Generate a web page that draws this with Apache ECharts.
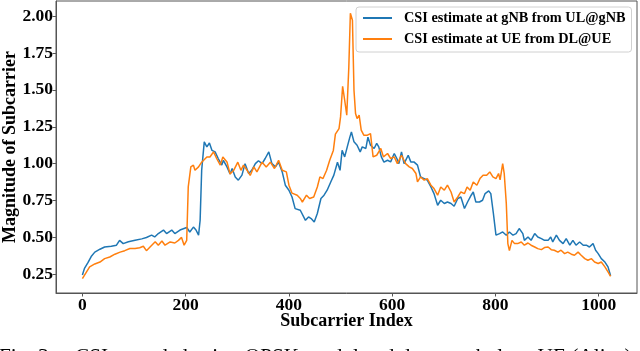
<!DOCTYPE html>
<html>
<head>
<meta charset="utf-8">
<script src="https://cdn.jsdelivr.net/npm/echarts@6/dist/echarts.min.js"></script>
<style>
html,body{margin:0;padding:0;background:#fff;}
#chart{width:640px;height:351px;}
</style>
</head>
<body>
<div id="chart"></div>
<script>
// ---- data ----
const blueName = 'CSI estimate at gNB from UL@gNB';
const orangeName = 'CSI estimate at UE from DL@UE';
const xTicks = [0, 200, 400, 600, 800, 1000];
const yTicks = [0.25, 0.5, 0.75, 1.0, 1.25, 1.5, 1.75, 2.0];

const blueX = [0,4,11,17,24,34,43,56,66,72,79,89,102,115,124,134,140,147,157,163,173,179,189,202,208,215,220,225,228,231,236,241,246,251,257,263,270,273,280,286,290,296,302,309,315,322,328,335,341,348,354,361,367,374,380,387,393,400,406,412,422,432,438,443,449,455,462,468,474,481,487,494,499,503,508,513,518,521,526,532,538,542,549,553,558,565,570,574,579,584,591,597,604,609,613,618,623,631,636,642,649,655,662,668,675,681,688,694,701,707,714,720,727,733,740,746,753,757,762,769,775,780,787,791,796,801,808,814,821,827,834,840,846,853,856,863,869,876,882,889,895,902,907,911,918,924,931,937,944,950,956,963,970,976,982,989,994,999,1005,1012,1018,1023];
const blueY = [0.245,0.29,0.33,0.37,0.40,0.42,0.435,0.44,0.447,0.48,0.458,0.47,0.48,0.49,0.499,0.515,0.503,0.526,0.55,0.526,0.55,0.526,0.55,0.567,0.537,0.57,0.55,0.515,0.616,0.955,1.148,1.114,1.14,1.09,1.08,1.035,0.99,1.023,0.978,0.93,0.967,0.91,0.888,0.922,1.0,0.933,0.955,1.0,1.02,1.0,1.035,1.08,1.0,0.978,1.01,0.944,0.854,0.82,0.774,0.695,0.684,0.616,0.639,0.628,0.605,0.662,0.764,0.786,0.82,0.876,0.922,1.01,0.955,1.09,1.046,1.114,1.18,1.215,1.148,1.125,1.08,1.114,1.103,1.18,1.125,1.103,1.137,1.114,1.046,1.01,1.023,1.012,1.069,1.035,1.0,1.08,1.0,1.057,1.012,1.012,0.99,0.91,0.899,0.888,0.842,0.797,0.718,0.752,0.73,0.74,0.73,0.711,0.764,0.774,0.696,0.74,0.786,0.808,0.74,0.74,0.752,0.797,0.815,0.797,0.662,0.515,0.526,0.537,0.515,0.537,0.515,0.526,0.56,0.526,0.48,0.503,0.48,0.526,0.503,0.492,0.48,0.48,0.503,0.469,0.515,0.48,0.458,0.492,0.447,0.48,0.447,0.469,0.447,0.447,0.435,0.458,0.413,0.39,0.356,0.333,0.30,0.24];

const orangeX = [0,8,14,24,34,43,53,63,73,82,92,102,111,118,124,131,141,147,154,160,170,179,186,192,197,202,205,210,215,218,225,231,241,247,254,260,267,272,280,286,293,301,307,312,319,325,332,338,348,356,364,372,380,387,395,400,406,409,416,422,426,434,440,448,455,460,466,473,479,486,490,497,500,504,508,512,516,519,523,526,529,532,536,540,545,552,558,563,570,578,583,591,597,604,610,618,626,633,639,646,649,655,662,668,675,681,688,694,701,707,714,720,727,733,740,745,751,757,764,770,776,783,789,795,801,806,809,814,817,821,824,827,832,837,843,850,856,863,869,876,882,889,895,902,908,914,921,927,934,940,947,953,960,966,973,979,986,992,999,1005,1012,1018,1023];
const orangeY = [0.22,0.266,0.30,0.32,0.333,0.356,0.367,0.386,0.40,0.41,0.425,0.425,0.43,0.44,0.41,0.435,0.47,0.447,0.476,0.447,0.469,0.462,0.48,0.50,0.447,0.48,0.842,0.978,0.99,0.955,0.978,1.01,1.045,1.045,1.08,1.035,0.99,1.045,1.012,0.93,0.955,1.01,0.955,0.99,0.955,0.92,0.978,0.944,1.01,0.978,1.01,0.967,1.023,0.955,0.944,0.854,0.80,0.797,0.786,0.764,0.74,0.786,0.764,0.774,0.842,0.91,0.899,0.955,1.023,1.09,1.20,1.238,1.317,1.525,1.43,1.329,1.656,2.02,1.973,1.498,1.34,1.306,1.329,1.227,1.193,1.193,1.204,1.046,1.057,1.103,1.046,1.069,1.035,1.046,1.0,1.057,1.0,0.978,0.967,0.933,0.876,0.91,0.888,0.899,0.854,0.831,0.786,0.842,0.82,0.854,0.808,0.74,0.774,0.808,0.797,0.842,0.82,0.876,0.854,0.899,0.922,0.922,0.944,0.91,0.899,0.933,0.89,1.0,0.933,0.73,0.458,0.41,0.48,0.458,0.458,0.469,0.447,0.462,0.447,0.435,0.424,0.417,0.431,0.435,0.417,0.413,0.40,0.413,0.39,0.40,0.386,0.379,0.40,0.379,0.356,0.345,0.356,0.333,0.323,0.333,0.30,0.266,0.236];

const captionLead = 'Fig. 3.';
const captionText = 'CSI recorded using QPSK modulated data symbols at UE (Alice)';

// ---- chart ----
const zip = (xs, ys) => xs.map((x, i) => [x, ys[i]]);
const serif = "'Liberation Serif', 'Times New Roman', serif";
const chart = echarts.init(document.getElementById('chart'), null, {renderer: 'canvas'});

chart.setOption({
  animation: false,
  backgroundColor: '#fff',
  grid: {left: 56, right: 3, top: 1, bottom: 58, containLabel: false, outerBoundsMode: 'none',
    show: true, borderColor: '#555', borderWidth: 1, backgroundColor: 'transparent'},
  xAxis: {
    type: 'value', min: -51.15, max: 1074.15,
    name: 'Subcarrier Index', nameLocation: 'middle', nameGap: 19, nameMoveOverlap: false,
    nameTextStyle: {fontFamily: serif, fontWeight: 'bold', fontSize: 18, color: '#000'},
    axisLine: {show: true, onZero: false, lineStyle: {color: '#555', width: 1}},
    axisTick: {show: true, length: 3.5, lineStyle: {color: '#555'}, customValues: xTicks},
    axisLabel: {customValues: xTicks, margin: 3, fontFamily: serif, fontWeight: 'bold', fontSize: 17.5, color: '#000',
      formatter: v => String(v)},
    splitLine: {show: false}
  },
  yAxis: {
    type: 'value', min: 0.123, max: 2.103,
    name: 'Magnitude of Subcarrier', nameLocation: 'middle', nameGap: 37, nameRotate: 90, nameMoveOverlap: false,
    nameTextStyle: {fontFamily: serif, fontWeight: 'bold', fontSize: 18, color: '#000'},
    axisLine: {show: true, onZero: false, lineStyle: {color: '#555', width: 1}},
    axisTick: {show: true, length: 3.5, lineStyle: {color: '#555'}, customValues: yTicks},
    axisLabel: {customValues: yTicks, margin: 3, fontFamily: serif, fontWeight: 'bold', fontSize: 17.5, color: '#000',
      formatter: v => v.toFixed(2)},
    splitLine: {show: false}
  },
  legend: {
    orient: 'vertical', left: 356, top: 7,
    padding: [4, 6, 6, 6],
    itemWidth: 29, itemHeight: 14, itemGap: 7,
    itemStyle: {opacity: 0},
    backgroundColor: 'rgba(255,255,255,0.8)', borderColor: '#d0d0d0', borderWidth: 1, borderRadius: 3,
    textStyle: {fontFamily: serif, fontWeight: 'bold', fontSize: 14.3, color: '#000', padding: [0, 0, 0, 7]},
    data: [blueName, orangeName]
  },
  series: [
    {name: blueName, type: 'line', data: zip(blueX, blueY), symbol: 'none', smooth: false,
      lineStyle: {color: '#1f77b4', width: 1.5}, itemStyle: {color: '#1f77b4'}},
    {name: orangeName, type: 'line', data: zip(orangeX, orangeY), symbol: 'none', smooth: false,
      lineStyle: {color: '#ff7f0e', width: 1.5}, itemStyle: {color: '#ff7f0e'}}
  ],
  graphic: [
    {type: 'text', x: -1, y: 357, style: {text: captionLead, fontFamily: serif, fontSize: 21.3, fill: '#000', align: 'left', verticalAlign: 'middle'}},
    {type: 'text', x: 75, y: 357, style: {text: captionText, fontFamily: serif, fontSize: 21.3, fill: '#000', align: 'left', verticalAlign: 'middle'}}
  ]
});
</script>
</body>
</html>
